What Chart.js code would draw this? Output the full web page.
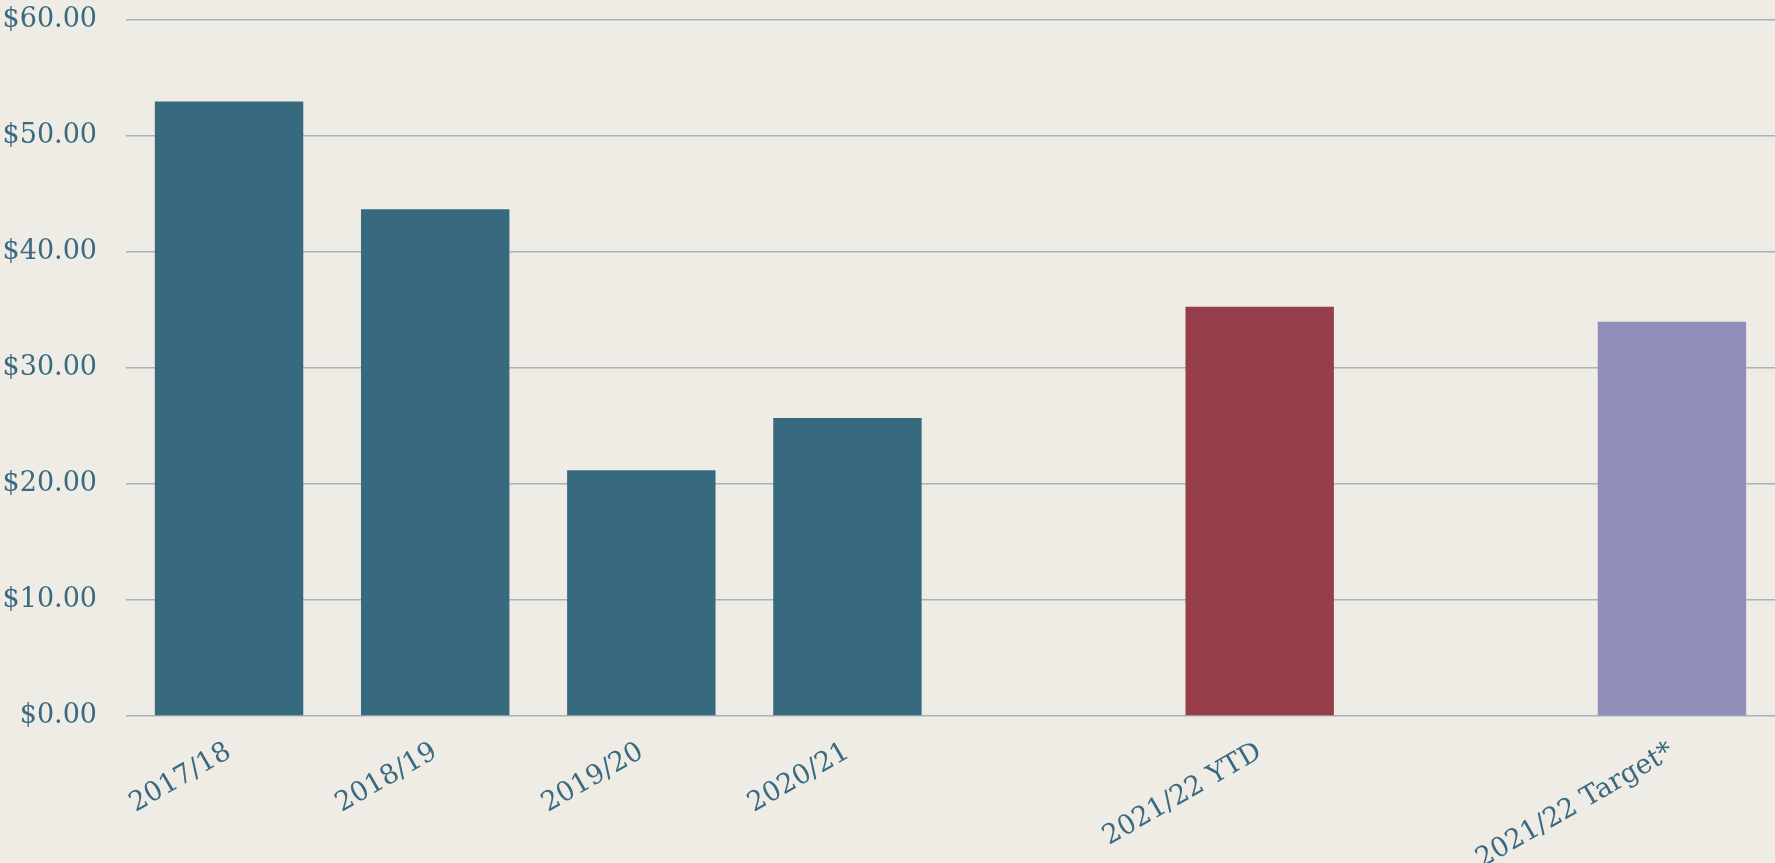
<!DOCTYPE html>
<html lang="en">
<head>
    <meta charset="UTF-8">
    <title>Cost per unit</title>
    <script src="https://cdn.jsdelivr.net/npm/chart.js"></script>
    <style>
        html, body {
            margin: 0;
            padding: 0;
            background: #efece5;
            overflow: hidden;
        }
        /* pulled up so the top gridline sits near the edge like the original */
        #wrap {
            position: absolute;
            left: 0;
            top: -25px;
            width: 1775px;
            height: 888px;
        }
    </style>
</head>
<body>

<div id="wrap"><canvas id="costChart"></canvas></div>

<script>
    // empty labels keep the gaps before the YTD and target bars
    const categories = ['2017/18', '2018/19', '2019/20', '2020/21', '', '2021/22 YTD', '', '2021/22 Target*'];
    const values = [53.0, 43.7, 21.2, 25.7, null, 35.3, null, 34.0];
    const barColors = ['#386a7f', '#386a7f', '#386a7f', '#386a7f', '#386a7f', '#963f4a', '#386a7f', '#918ebc'];
    const yTicks = [0, 10, 20, 30, 40, 50, 60];

    const textColor = '#3a6a80';
    const fontFamily = "Georgia, 'DejaVu Serif', serif";

    new Chart(document.getElementById('costChart'), {
        type: 'bar',
        data: {
            labels: categories,
            datasets: [{
                data: values,
                backgroundColor: barColors,
                borderWidth: 0
            }]
        },
        options: {
            responsive: true,
            maintainAspectRatio: false,
            animation: false,
            layout: {
                padding: 0
            },
            plugins: {
                legend: { display: false },
                tooltip: { enabled: false }
            },
            scales: {
                x: {
                    grid: { display: false, drawTicks: false },
                    border: { display: false },
                    ticks: {
                        color: textColor,
                        font: { family: fontFamily, size: 27 },
                        minRotation: 30,
                        maxRotation: 30,
                        autoSkip: false,
                        padding: 20
                    },
                    afterFit: function (scale) {
                        scale.height = 147;
                    }
                },
                y: {
                    min: 0,
                    max: 60,
                    afterBuildTicks: function (scale) {
                        scale.ticks = yTicks.map(v => ({ value: v }));
                    },
                    grid: {
                        color: '#a6b2b9',
                        lineWidth: 1.5,
                        drawTicks: false
                    },
                    border: { display: false },
                    ticks: {
                        color: textColor,
                        font: { family: fontFamily, size: 27 },
                        padding: 29,
                        callback: function (v) {
                            return '$' + Number(v).toFixed(2);
                        }
                    },
                    afterFit: function (scale) {
                        scale.width = 126;
                    }
                }
            }
        }
    });
</script>

</body>
</html>
